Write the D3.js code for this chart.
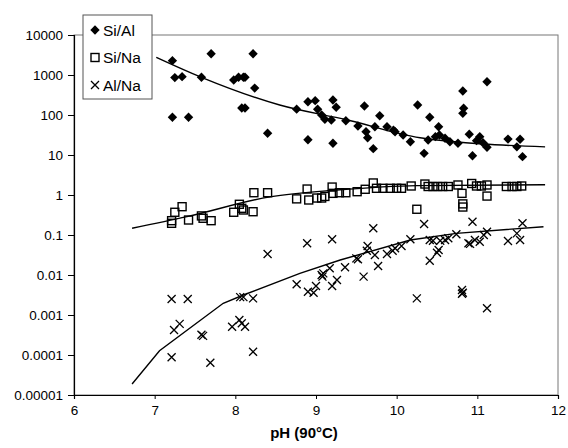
<!DOCTYPE html>
<html>
<head>
<meta charset="utf-8">
<script src="https://cdn.jsdelivr.net/npm/d3@7"></script>
<style>
  body { margin: 0; background: #fff; }
  text { font-family: Arial, "Liberation Sans", sans-serif; }
</style>
</head>
<body>
<div id="chart"></div>
<script>
// pH and ratio values
var siAlPH = [7.22, 7.25, 7.34, 7.70, 7.22, 7.42, 7.58, 7.98, 8.04, 8.10, 8.12, 8.22, 8.24, 8.08, 8.12,
              8.40, 8.76, 8.90, 8.99, 9.02, 8.90, 9.21, 9.25, 9.07, 9.11, 9.19, 9.21, 9.37, 9.52, 9.62,
              9.64, 9.60, 9.71, 9.79, 9.73, 9.88, 9.96, 9.98, 10.08, 10.17, 10.26, 10.34, 10.41, 10.52,
              10.39, 10.48, 10.53, 10.60, 10.66, 10.76, 10.82, 10.83, 10.82, 10.90, 10.94, 10.99, 11.03,
              11.07, 11.12, 11.12, 11.38, 11.49, 11.53, 11.56];
var siAlVal = [2280, 860, 910, 3400, 88, 88, 880, 750, 880, 880, 880, 3400, 470, 150, 150,
               35, 140, 215, 228, 139, 24, 237, 156, 100, 78, 75, 19.6, 72, 53, 38,
               27, 168, 14.4, 96, 51, 51, 42, 38, 31.6, 21.5, 178, 11, 88, 51,
               23.7, 28.7, 31.6, 26.2, 21.5, 19.6, 398, 147, 110, 33, 9.6, 22.8, 28.7,
               20.3, 680, 15.6, 25, 16, 24.7, 9.1];

var siNaPH = [7.21, 7.21, 7.25, 7.34, 7.42, 7.58, 7.60, 7.70, 7.98, 8.05, 8.08, 8.10, 8.22, 8.23,
              8.40, 8.76, 8.89, 8.91, 9.01, 9.07, 9.11, 9.20, 9.21, 9.29, 9.37, 9.51, 9.61, 9.71,
              9.75, 9.83, 9.92, 10.00, 10.06, 10.18, 10.25, 10.35, 10.39, 10.45, 10.51, 10.57, 10.64,
              10.76, 10.81, 10.82, 10.82, 10.93, 10.99, 11.05, 11.12, 11.12, 11.36, 11.43, 11.49, 11.55];
var siNaVal = [0.196, 0.228, 0.37, 0.51, 0.237, 0.30, 0.262, 0.228, 0.37, 0.586, 0.465, 0.422, 0.382, 1.14,
               1.14, 0.80, 1.41, 0.75, 0.84, 0.84, 0.92, 1.58, 1.10, 1.14, 1.14, 1.21, 1.39, 2.0,
               1.47, 1.47, 1.47, 1.47, 1.47, 1.68, 0.44, 1.88, 1.63, 1.63, 1.63, 1.63, 1.63,
               1.78, 1.10, 0.60, 0.50, 1.94, 1.68, 1.68, 1.78, 0.94, 1.63, 1.63, 1.63, 1.68];

var alNaPH = [7.21, 7.41, 7.24, 7.31, 7.21, 7.58, 7.60, 7.69, 8.40, 8.06, 8.10, 8.22, 7.96, 8.05,
              8.08, 8.12, 8.22, 8.76, 8.89, 9.20, 8.90, 8.97, 9.00, 9.07, 9.09, 9.08, 9.17, 9.20,
              9.26, 9.36, 9.71, 9.59, 9.50, 9.52, 9.64, 9.63, 9.73, 9.77, 9.88, 9.95, 9.98, 10.06,
              10.17, 10.34, 10.25, 10.41, 10.50, 10.52, 10.41, 10.45, 10.54, 10.60, 10.64, 10.74,
              10.81, 10.82, 10.81, 10.89, 10.91, 10.94, 10.97, 11.03, 11.08, 11.12, 11.12, 11.38,
              11.49, 11.53, 11.56];
var alNaVal = [0.0025, 0.0025, 0.00042, 0.0006, 0.000088, 0.00032, 0.0003, 0.000064, 0.0335, 0.0028, 0.0028, 0.0026, 0.00051, 0.00075,
               0.00062, 0.00051, 0.00012, 0.0059, 0.062, 0.078, 0.0038, 0.0036, 0.0053, 0.010, 0.011, 0.0091, 0.0147, 0.0053,
               0.0075, 0.0156, 0.147, 0.0091, 0.026, 0.0247, 0.053, 0.0405, 0.0316, 0.0168, 0.0335, 0.0405, 0.0465, 0.053,
               0.078, 0.188, 0.0026, 0.0228, 0.0361, 0.042, 0.075, 0.072, 0.072, 0.075, 0.083, 0.104,
               0.0042, 0.0036, 0.0034, 0.062, 0.060, 0.215, 0.075, 0.068, 0.10, 0.121, 0.00147, 0.071,
               0.110, 0.075, 0.196];

// trend lines
var siAlTrendPH = [7.02, 7.58, 8.55, 9.38, 10.29, 11.84];
var siAlTrendVal = [2770, 876, 178, 76, 27, 16];
var siNaTrendPH = [6.72, 7.40, 8.43, 9.26, 10.25, 11.84];
var siNaTrendVal = [0.147, 0.287, 0.90, 1.33, 1.72, 1.80];
var alNaTrendPH = [6.72, 7.06, 7.85, 8.10, 8.80, 9.30, 10.17, 10.74, 11.82];
var alNaTrendVal = [0.0000188, 0.000128, 0.00196, 0.00316, 0.011, 0.0237, 0.075, 0.110, 0.161];

var xTicks = [6, 7, 8, 9, 10, 11, 12];
var yTicks = [0.00001, 0.0001, 0.001, 0.01, 0.1, 1, 10, 100, 1000, 10000];
var yTickLabels = ['0.00001', '0.0001', '0.001', '0.01', '0.1', '1', '10', '100', '1000', '10000'];
var seriesNames = ['Si/Al', 'Si/Na', 'Al/Na'];

var width = 568, height = 448;
var margin = {left: 74, right: 558, top: 35, bottom: 395};

var x = d3.scaleLinear().domain([6, 12]).range([margin.left, margin.right]);
var y = d3.scaleLog().domain([0.00001, 10000]).range([margin.bottom, margin.top]);

var svg = d3.select('#chart').append('svg')
    .attr('width', width)
    .attr('height', height);

// plot area border
svg.append('rect')
    .attr('x', margin.left).attr('y', margin.top)
    .attr('width', margin.right - margin.left).attr('height', margin.bottom - margin.top)
    .attr('fill', 'none')
    .attr('stroke', '#777')
    .attr('stroke-width', 1);

// axes
var yAxis = svg.append('g')
    .attr('transform', 'translate(' + margin.left + ',0)')
    .call(d3.axisLeft(y).tickValues(yTicks).tickSize(6).tickPadding(5)
        .tickFormat(function(d, i) { return yTickLabels[i]; }));
var xAxis = svg.append('g')
    .attr('transform', 'translate(0,' + margin.bottom + ')')
    .call(d3.axisBottom(x).tickValues(xTicks).tickSize(4).tickPadding(6)
        .tickFormat(d3.format('d')));
[xAxis, yAxis].forEach(function(g) {
    g.select('.domain').attr('stroke', '#000').attr('stroke-width', 1.2);
    g.selectAll('.tick line').attr('stroke', '#000');
    g.selectAll('text').attr('font-size', 13.5).attr('fill', '#000')
        .style('font-family', 'Arial, "Liberation Sans", sans-serif');
});

svg.append('text')
    .attr('x', 304).attr('y', 438)
    .attr('text-anchor', 'middle')
    .attr('font-size', 15)
    .attr('font-weight', 'bold')
    .text('pH (90°C)');

// trend lines
var smooth = d3.line()
    .x(function(d) { return x(d[0]); })
    .y(function(d) { return y(d[1]); })
    .curve(d3.curveMonotoneX);
var straight = d3.line()
    .x(function(d) { return x(d[0]); })
    .y(function(d) { return y(d[1]); });
[[siAlTrendPH, siAlTrendVal, smooth], [siNaTrendPH, siNaTrendVal, smooth], [alNaTrendPH, alNaTrendVal, straight]]
    .forEach(function(t) {
        svg.append('path')
            .datum(d3.zip(t[0], t[1]))
            .attr('d', t[2])
            .attr('fill', 'none')
            .attr('stroke', '#000')
            .attr('stroke-width', 1.4);
    });

// markers
var diamond = d3.symbol().type(d3.symbolDiamond2).size(56);
function drawSiAl(g, px, py) {
    g.append('path').attr('d', diamond()).attr('transform', 'translate(' + px + ',' + py + ')')
        .attr('fill', '#000');
}
function drawSiNa(g, px, py) {
    g.append('rect').attr('x', px - 4).attr('y', py - 4).attr('width', 8).attr('height', 8)
        .attr('fill', 'none').attr('stroke', '#000').attr('stroke-width', 1.4);
}
function drawAlNa(g, px, py) {
    g.append('path').attr('d', 'M' + (px - 4) + ',' + (py - 4) + 'L' + (px + 4) + ',' + (py + 4) +
        'M' + (px - 4) + ',' + (py + 4) + 'L' + (px + 4) + ',' + (py - 4))
        .attr('stroke', '#000').attr('stroke-width', 1.3).attr('fill', 'none');
}

var pts = svg.append('g');
d3.zip(siNaPH, siNaVal).forEach(function(d) { drawSiNa(pts, x(d[0]), y(d[1])); });
d3.zip(alNaPH, alNaVal).forEach(function(d) { drawAlNa(pts, x(d[0]), y(d[1])); });
d3.zip(siAlPH, siAlVal).forEach(function(d) { drawSiAl(pts, x(d[0]), y(d[1])); });

// legend
var legend = svg.append('g');
legend.append('rect')
    .attr('x', 83).attr('y', 15).attr('width', 69).attr('height', 84)
    .attr('fill', '#fff').attr('stroke', '#555').attr('stroke-width', 1);
var drawers = [drawSiAl, drawSiNa, drawAlNa];
seriesNames.forEach(function(name, i) {
    var cy = 30 + i * 27.5;
    drawers[i](legend, 95, cy);
    legend.append('text')
        .attr('x', 103).attr('y', cy + 5.5)
        .attr('font-size', 15.5)
        .text(name);
});
</script>
</body>
</html>
